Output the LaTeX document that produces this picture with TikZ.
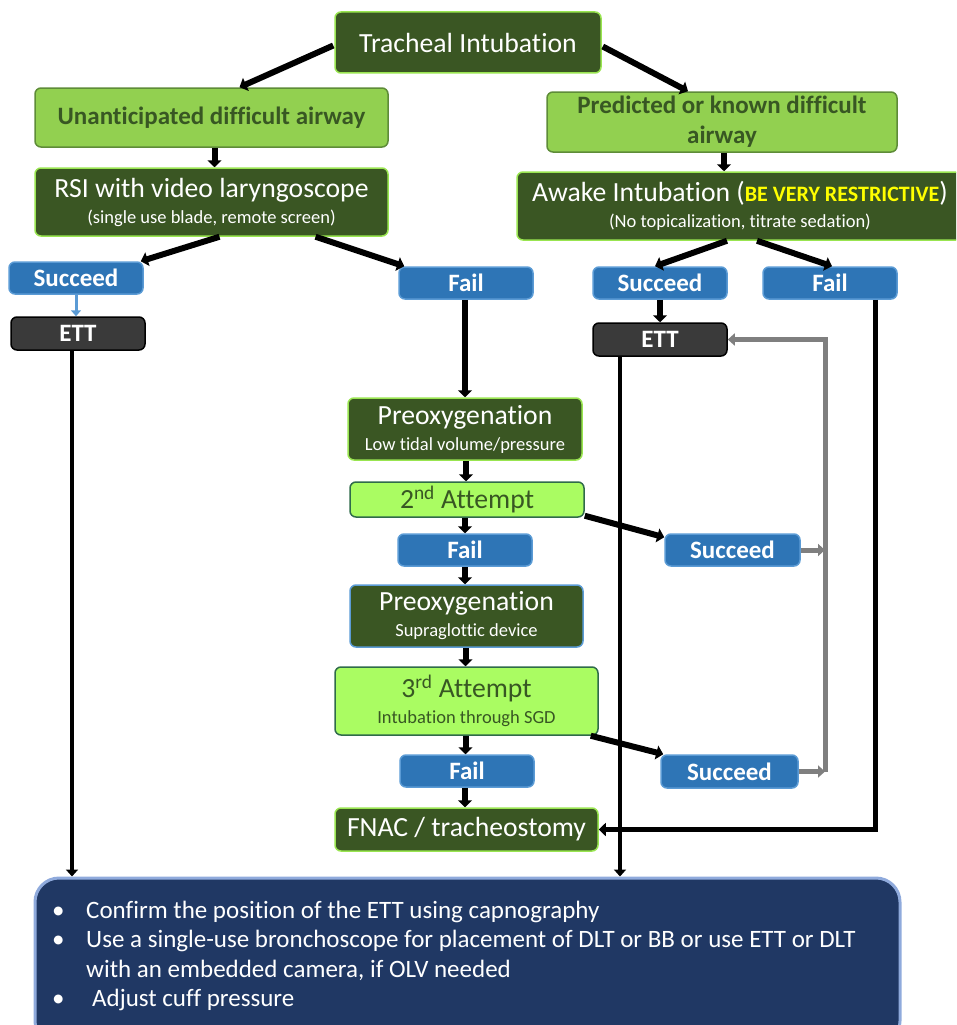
\documentclass[tikz,border=0pt]{standalone}
\usepackage{fontspec}
\setmainfont{Carlito}[Ligatures=NoCommon]
\usetikzlibrary{arrows.meta,calc}
\definecolor{dkgreen}{HTML}{3A5623}
\definecolor{brgreen}{HTML}{99E550}
\definecolor{ltgreen}{HTML}{92D050}
\definecolor{ltgreenb}{HTML}{5E8C38}
\definecolor{limef}{HTML}{AAFC62}
\definecolor{limeb}{HTML}{2F6B4A}
\definecolor{txtgreen}{HTML}{385723}
\definecolor{blu}{HTML}{2E75B6}
\definecolor{blub}{HTML}{5B9BD5}
\definecolor{ettgray}{HTML}{3A3A3A}
\definecolor{navy}{HTML}{203864}
\definecolor{navyb}{HTML}{8FAADC}
\definecolor{garr}{HTML}{7F7F7F}
\definecolor{yel}{HTML}{FFFF00}
\newcommand\fbig{\fontsize{27.7}{30}\selectfont}
\newcommand\fsub{\fontsize{18.5}{24}\selectfont}
\newcommand\fbtn{\fontsize{25}{30}\selectfont\bfseries}
\newcommand\fyel{\fontsize{22}{30}\selectfont\bfseries}
\newcommand\flist{\fontsize{25}{30}\selectfont}
\newcommand\ftwo{\fontsize{18.5}{26}\selectfont}
\tikzset{
  box/.style={rounded corners=6pt, line width=1.5pt, align=center, inner sep=0pt, anchor=center},
  dkbox/.style={box, fill=dkgreen, draw=brgreen, text=white},
  lgbox/.style={box, fill=ltgreen, draw=ltgreenb, text=txtgreen, font=\fbtn},
  limebox/.style={box, fill=limef, draw=limeb, text=txtgreen},
  blbox/.style={box, fill=blu, draw=blub, text=white, font=\fbtn, minimum width=134pt, minimum height=32pt},
  ettbox/.style={box, fill=ettgray, draw=black, text=white, font=\fbtn, minimum width=134pt, minimum height=33pt},
  arr/.style={line width=6pt, draw=black, -{Triangle[length=7pt,width=14pt]}},
  thinarr/.style={line width=4pt, draw=black, -{Triangle[length=7pt,width=12pt]}},
  garrow/.style={line width=5pt, draw=garr, -{Triangle[length=7pt,width=12pt]}},
  barrow/.style={line width=3pt, draw=blub, -{Triangle[length=6pt,width=10pt]}},
  listtext/.style={anchor=base west, inner sep=0pt, text=white, font=\flist},
}
\begin{document}
\begin{tikzpicture}[x=1pt,y=-1pt]
\useasboundingbox (0,0) rectangle (956,1025);
\clip (0,0) rectangle (956,1025);

% nodes
\node[dkbox, minimum width=266pt, minimum height=61pt, font=\fbig] (ti) at (468,42.5) {Tracheal Intubation};
\node[lgbox, minimum width=353pt, minimum height=59pt] (ua) at (211.5,117.5) {Unanticipated difficult airway};
\node[lgbox, minimum width=350pt, minimum height=60pt] (pk) at (722,122) {\raisebox{-3pt}{Predicted or known difficult}\\\raisebox{-3pt}{airway}};
\node[dkbox, minimum width=353pt, minimum height=68pt, font=\ftwo] (rsi) at (211.5,202)
  {{\fbig RSI with video laryngoscope}\\{\fsub (single use blade, remote screen)}};
\node[dkbox, minimum width=446pt, minimum height=68pt, font=\ftwo] (aw) at (740,206)
  {{\fbig Awake Intubation (}{\fyel\color{yel}BE VERY RESTRICTIVE}{\fbig)}\\{\fsub (No topicalization, titrate sedation)}};

\node[blbox] (sl) at (76,278) {Succeed};
\node[ettbox] (el) at (78,333.5) {ETT};
\node[blbox] (fm) at (466,283) {Fail};
\node[blbox] (sr) at (660,283) {Succeed};
\node[blbox] (fr) at (830,283) {Fail};
\node[ettbox] (er) at (660,339.5) {ETT};

\node[dkbox, minimum width=234pt, minimum height=62pt, font=\ftwo] (p1) at (465,429)
  {{\fbig Preoxygenation}\\{\fsub Low tidal volume/pressure}};
\node[limebox, minimum width=234pt, minimum height=35pt, font=\fbig] (a2) at (467,499.5) {2\textsuperscript{nd} Attempt};
\node[blbox] (f2) at (465,550) {Fail};
\node[blbox, minimum width=135pt] (s2) at (732.5,550) {Succeed};
\node[dkbox, draw=blub, minimum width=233pt, minimum height=62pt, font=\ftwo] (p2) at (466.5,616)
  {{\fbig Preoxygenation}\\{\fsub Supraglottic device}};
\node[limebox, minimum width=263pt, minimum height=68pt, font=\ftwo] (a3) at (466.5,701)
  {{\fbig 3\textsuperscript{rd} Attempt}\\{\fsub Intubation through SGD}};
\node[blbox] (f3) at (467,771) {Fail};
\node[blbox, minimum width=137pt, minimum height=33pt] (s3) at (729.5,771.5) {Succeed};
\node[dkbox, minimum width=263pt, minimum height=43pt, font=\fbig] (fn) at (466.5,829.5) {FNAC / tracheostomy};

\node[box, rounded corners=24pt, fill=navy, draw=navyb, line width=3pt, minimum width=865pt, minimum height=167pt] (bb) at (467.5,961.5) {};

% bottom list
\node[listtext] (b1) at (52,918) {\textbullet};
\node[listtext] (t1) at (86,918) {Confirm the position of the ETT using capnography};
\node[listtext] (b2) at (52,947.5) {\textbullet};
\node[listtext] (t2) at (86,947.5) {Use a single-use bronchoscope for placement of DLT or BB or use ETT or DLT};
\node[listtext] (t2b) at (86,977) {with an embedded camera, if OLV needed};
\node[listtext] (b3) at (52,1006.5) {\textbullet};
\node[listtext] (t3) at (92,1006.5) {Adjust cuff pressure};

% helper coordinates for vertical connectors
\coordinate (uas) at ($(ua.south)+(3,0)$);
\coordinate (pks) at ($(pk.south)+(2,0)$);
\coordinate (fms) at ($(fm.south)+(-1,0)$);
\coordinate (p1s) at ($(p1.south)+(1,0)$);
\coordinate (a2s) at ($(a2.south)+(-2,0)$);
\coordinate (p2s) at ($(p2.south)+(-1,0)$);
\coordinate (a3s) at ($(a3.south)+(-1,0)$);
\coordinate (f3s) at ($(f3.south)+(-2,0)$);

% connectors
\draw[arr] ($(ti.west)+(-1,3)$) -- ($(ua.north)+(28,0)$);
\draw[arr] ($(ti.east)+(1,4)$) -- ($(pk.north)+(-34,0)$);
\draw[arr] (uas) -- (uas |- rsi.north);
\draw[arr] (pks) -- (pks |- aw.north);
\draw[arr] ($(rsi.south)+(8,0)$) -- ($(sl.north east)+(-3,0)$);
\draw[arr] ($(rsi.south)+(104,0)$) -- ($(fm.north west)+(6,0)$);
\draw[arr] ($(aw.south)+(-13,0)$) -- ($(sr.north)+(-5,0)$);
\draw[arr] ($(aw.south)+(17,0)$) -- ($(fr.north)+(2,0)$);
\draw[barrow] (sl.south) -- (sl.south |- el.north);
\draw[arr] (sr.south) -- (sr.south |- er.north);
\draw[arr] (fms) -- (fms |- p1.north);
\draw[arr] (p1s) -- (p1s |- a2.north);
\draw[arr] (a2s) -- (a2s |- f2.north);
\draw[arr] (f2.south) -- (f2.south |- p2.north);
\draw[arr] (p2s) -- (p2s |- a3.north);
\draw[arr] (a3s) -- (a3s |- f3.north);
\draw[arr] (f3s) -- (f3s |- fn.north);
\draw[arr] ($(a2.south east)+(0,-2)$) -- ($(s2.north west)+(0,4)$);
\draw[arr] ($(a3.south east)+(-8,0)$) -- ($(s3.north west)+(3,0)$);

% long routes
\coordinate (frx) at ($(fr.south)+(45,0)$);
\draw[line width=5pt, -{Triangle[length=7pt,width=13pt]}] (frx) |- (fn.east);
\coordinate (erx) at ($(er.south)+(-40,0)$);
\draw[thinarr] (erx) -- (erx |- bb.north);
\coordinate (elx) at ($(el.south)+(-6,0)$);
\draw[thinarr] (elx) -- (elx |- bb.north);

% gray return
\coordinate (gtop) at (825,339.5);
\coordinate (gbot) at (825,772);
\draw[garrow] (gbot) -- (gtop) -- (er.east);
\draw[garrow] (s2.east) -- (s2.east -| gtop);
\draw[garrow] (s3.east) -- (s3.east -| gtop);
\end{tikzpicture}
\end{document}
